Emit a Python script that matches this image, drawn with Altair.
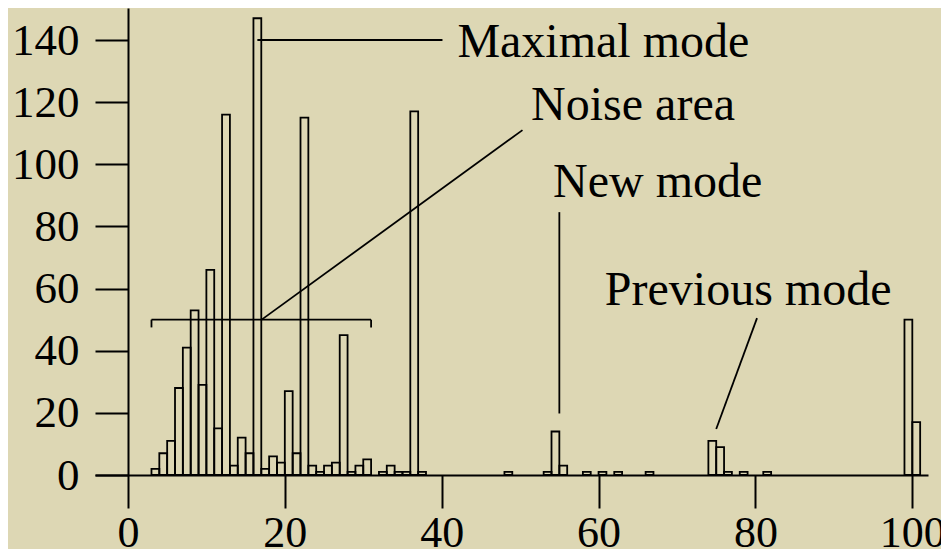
import altair as alt
import pandas as pd

# Histogram bins (left edge of each unit-wide bin) and counts
bin_start = [3, 4, 5, 6, 7, 8, 9, 10, 11, 12, 13, 14, 15, 16, 17, 18, 19, 20, 21, 22,
             23, 24, 25, 26, 27, 28, 29, 30, 32, 33, 34, 35, 36, 37, 48, 53, 54, 55,
             58, 60, 62, 66, 74, 75, 76, 78, 81, 99, 100]
counts = [2, 7, 11, 28, 41, 53, 29, 66, 15, 116, 3, 12, 7, 147, 2, 6, 4, 27, 7, 115,
          3, 1, 3, 4, 45, 1, 3, 5, 1, 3, 1, 1, 117, 1, 1, 1, 14, 3,
          1, 1, 1, 1, 11, 9, 1, 1, 1, 50, 17]

tick_x = [0, 20, 40, 60, 80, 100]
tick_y = [0, 20, 40, 60, 80, 100, 120, 140]

# Annotation texts (data coordinates of left/baseline)
ann_text = ["Maximal mode", "Noise area", "New mode", "Previous mode"]
ann_x = [42.0, 51.4, 54.2, 60.8]
ann_y = [134.6, 114.3, 89.6, 54.7]

# Annotation lines (pointer lines + noise bracket)
seg_x = [16.5, 17.05, 55.0, 80.2, 3, 3, 31]
seg_x2 = [40.1, 50.3, 55.0, 75.0, 31, 3, 31]
seg_y = [140, 50, 84.6, 50.5, 50, 50, 50]
seg_y2 = [140, 111.0, 19.8, 14.8, 50, 47.5, 47.5]

BG = "#ddd7b4"
FONT = "Liberation Serif"

bars = pd.DataFrame({"x": bin_start, "x2": [b + 1 for b in bin_start], "y": counts, "y0": [0] * len(counts)})
anns = pd.DataFrame({"x": ann_x, "y": ann_y, "text": ann_text})
segs = pd.DataFrame({"x": seg_x, "x2": seg_x2, "y": seg_y, "y2": seg_y2})

xscale = alt.Scale(domain=[-4.2, 102.0], nice=False, zero=False)
yscale = alt.Scale(domain=[0, 150.3], nice=False, zero=False)

xaxis = alt.Axis(values=tick_x, title=None, grid=False, domainColor="black", domainWidth=2,
                 tickColor="black", tickWidth=2, tickSize=33, labelFont=FONT, labelFontSize=44,
                 labelColor="black", labelPadding=3, labelFlush=False, labelOverlap=False, format="d")
yaxis = alt.Axis(values=tick_y, title=None, grid=False, domainColor="black", domainWidth=2,
                 tickColor="black", tickWidth=2, tickSize=33, labelFont=FONT, labelFontSize=45,
                 labelColor="black", labelPadding=16, labelFlush=False, labelOverlap=False,
                 format="d", offset=-33)

bar_layer = alt.Chart(bars).mark_rect(fill="transparent", stroke="black", strokeWidth=1.8).encode(
    x=alt.X("x:Q", scale=xscale, axis=xaxis),
    x2="x2:Q",
    y=alt.Y("y:Q", scale=yscale, axis=yaxis),
    y2="y0:Q",
)

seg_layer = alt.Chart(segs).mark_rule(color="black", strokeWidth=1.8).encode(
    x=alt.X("x:Q", scale=xscale, axis=xaxis),
    x2="x2:Q",
    y=alt.Y("y:Q", scale=yscale, axis=yaxis),
    y2="y2:Q",
)

text_layer = alt.Chart(anns).mark_text(align="left", baseline="alphabetic", font=FONT,
                                        fontSize=48, color="black").encode(
    x=alt.X("x:Q", scale=xscale, axis=xaxis),
    y=alt.Y("y:Q", scale=yscale, axis=yaxis),
    text="text:N",
)

chart = alt.layer(bar_layer, seg_layer, text_layer).properties(
    width=833,
    height=467,
    background=BG,
    autosize=alt.AutoSizeParams(type="none"),
    padding={"left": 87, "top": 0, "right": 13, "bottom": 74},
).configure_view(stroke=None)

chart.save("out.html", embed_options={"renderer": "svg", "actions": False})
